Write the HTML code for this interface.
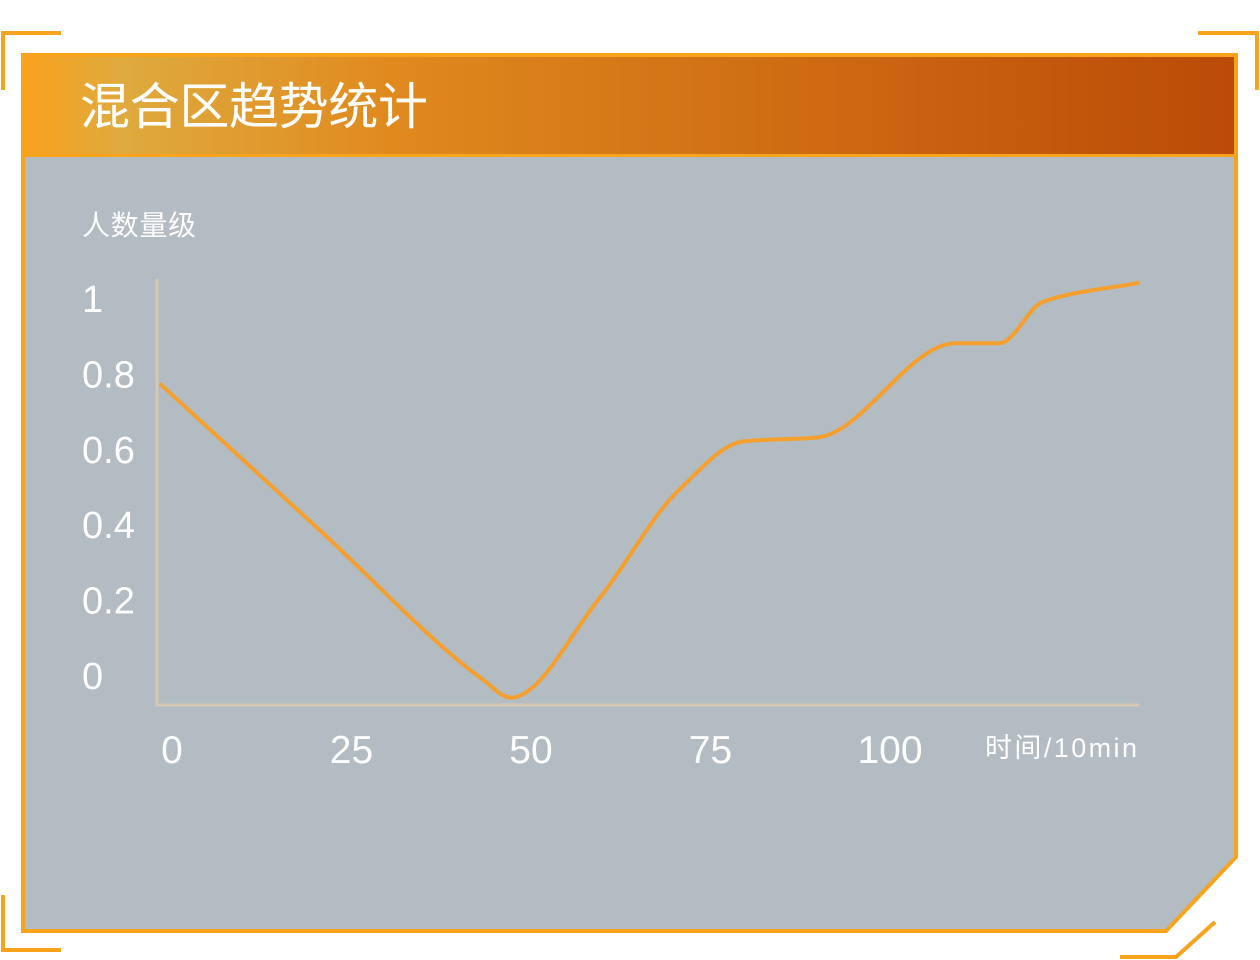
<!DOCTYPE html>
<html><head><meta charset="utf-8"><style>
html,body{margin:0;padding:0;background:#fff;width:1260px;height:960px;overflow:hidden;font-family:"Liberation Sans","Noto Sans CJK SC",sans-serif}
</style></head><body>
<svg width="1260" height="960" style="position:absolute;left:0;top:0">
<defs>
<linearGradient id="hg" x1="0" x2="1" y1="0" y2="0">
<stop offset="0" stop-color="#f8a21e"/><stop offset="0.08" stop-color="#dfaa3e"/><stop offset="0.3" stop-color="#e08a1e"/><stop offset="1" stop-color="#bb4b07"/>
</linearGradient>
</defs>
<g stroke="#f7a41c" stroke-width="4" fill="none">
<polyline points="61,33 3,33 3,90"/>
<polyline points="1198,33 1257,33 1257,90"/>
<polyline points="3,895 3,950 61,950"/>
<polyline points="1120,957 1176,957 1215,922"/>
</g>
<path d="M23,55 L1236,55 L1236,857 L1166,931 L23,931 Z" fill="#b2bcc2" stroke="#f7a41c" stroke-width="4"/>
<rect x="25" y="57" width="1209" height="98" fill="url(#hg)"/>
<rect x="25" y="154" width="1209" height="3" fill="#f7a41c"/>
<text x="80" y="124" font-size="50" fill="#fff" textLength="348" font-family="Liberation Sans,Noto Sans CJK SC,sans-serif">混合区趋势统计</text>
<text x="82" y="235" font-size="28" fill="#fff" textLength="114" font-family="Liberation Sans,Noto Sans CJK SC,sans-serif">人数量级</text>
<text x="985" y="757" font-size="27" fill="#fff" textLength="152" font-family="Liberation Sans,Noto Sans CJK SC,sans-serif">时间/10min</text>
<g id="axes"></g>
<g id="plot"></g>
</svg>
<script>
const xTicks=[0,25,50,75,100];
const yTicks=[0,0.2,0.4,0.6,0.8,1];
const yTickLabels=["0","0.2","0.4","0.6","0.8","1"];
const times=[0,22,44,48,60,71,80,90,109,115,121,134];
const values=[0.77,0.38,-0.01,-0.06,0.2,0.49,0.62,0.63,0.88,0.88,0.99,1.04];
const NS="http://www.w3.org/2000/svg";
const xs=t=>161+7.29*t;
const xl=t=>172+7.18*t;
const ys=v=>675-377*v;
const axes=document.getElementById('axes');
function mk(tag,attrs,parent){const e=document.createElementNS(NS,tag);for(const k in attrs)e.setAttribute(k,attrs[k]);parent.appendChild(e);return e;}
const ya=mk('line',{x1:157,y1:279,x2:157,y2:706,stroke:'#d6c8b4','stroke-width':3},axes);


const xa=mk('line',{x1:155,y1:705,x2:1139,y2:705,stroke:'#d6c8b4','stroke-width':3},axes);


yTicks.forEach((v,i)=>{
 const t=mk('text',{x:82,y:ys(v)+14,'font-size':38,fill:'#fff'},axes);
 t.textContent=yTickLabels[i];
 
 
});
xTicks.forEach(v=>{
 const t=mk('text',{x:xl(v),y:763,'font-size':39,fill:'#fff','text-anchor':'middle'},axes);
 t.textContent=String(v);
 
 
});
const P=times.map((t,i)=>[xs(t),ys(values[i])]);
const n=P.length, dx=[], sl=[], m=[];
for(let i=0;i<n-1;i++){dx[i]=P[i+1][0]-P[i][0];sl[i]=(P[i+1][1]-P[i][1])/dx[i];}
m[0]=sl[0];m[n-1]=sl[n-2];
for(let i=1;i<n-1;i++){
 if(sl[i-1]*sl[i]<=0)m[i]=0;
 else{const w1=2*dx[i]+dx[i-1],w2=dx[i]+2*dx[i-1];m[i]=(w1+w2)/(w1/sl[i-1]+w2/sl[i]);}
}
let d='M'+P[0][0]+','+P[0][1];
for(let i=0;i<n-1;i++){
 const h=dx[i]/3;
 d+=' C'+(P[i][0]+h)+','+(P[i][1]+m[i]*h)+' '+(P[i+1][0]-h)+','+(P[i+1][1]-m[i+1]*h)+' '+P[i+1][0]+','+P[i+1][1];
}
const line=mk('path',{d:d,fill:'none',stroke:'#f5a02e','stroke-width':4,'stroke-linecap':'round','stroke-linejoin':'round'},document.getElementById('plot'));


</script>
</body></html>
